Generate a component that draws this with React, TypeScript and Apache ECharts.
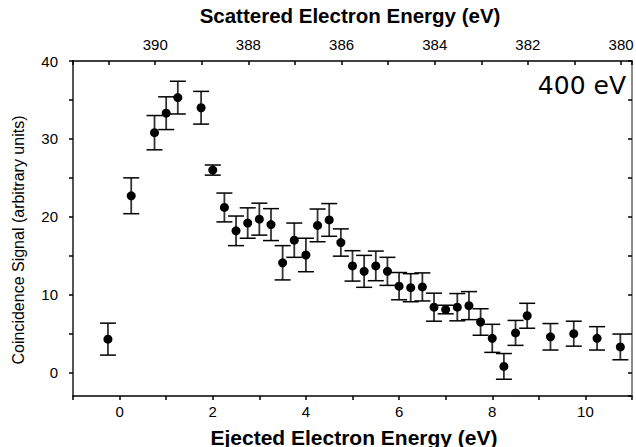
import React, { useEffect, useRef } from "react";
import * as echarts from "echarts";

// Ejected electron energy (eV)
const ejected = [-0.25, 0.25, 0.75, 1.0, 1.25, 1.75, 2.0, 2.25, 2.5, 2.75, 3.0, 3.25, 3.5, 3.75, 4.0, 4.25, 4.5, 4.75, 5.0, 5.25, 5.5, 5.75, 6.0, 6.25, 6.5, 6.75, 7.0, 7.25, 7.5, 7.75, 8.0, 8.25, 8.5, 8.75, 9.25, 9.75, 10.25, 10.75];
// Coincidence signal (arbitrary units)
const signal = [4.3, 22.7, 30.8, 33.3, 35.3, 34.0, 26.0, 21.2, 18.2, 19.2, 19.7, 19.0, 14.1, 17.0, 15.1, 18.9, 19.6, 16.7, 13.7, 13.0, 13.7, 13.0, 11.1, 10.9, 11.0, 8.4, 8.1, 8.4, 8.6, 6.5, 4.4, 0.8, 5.1, 7.3, 4.6, 5.0, 4.4, 3.3];
// Error bar half-heights
const errors = [2.05, 2.3, 2.2, 2.1, 2.1, 2.1, 0.65, 1.85, 1.9, 1.95, 2.05, 2.05, 2.2, 2.2, 2.15, 2.1, 2.1, 1.75, 1.95, 2.05, 1.9, 1.8, 1.75, 1.8, 1.8, 1.8, 0.55, 1.75, 1.8, 1.7, 1.8, 1.65, 1.6, 1.6, 1.7, 1.6, 1.5, 1.65];

// Axis ranges
const xRange = [-1, 11];
const scatteredOffset = 390.765; // scattered = offset - ejected
const yRange = [-3, 40];

const FONT = "Liberation Sans, Arial, sans-serif";

export default function App() {
  const ref = useRef<HTMLDivElement>(null);

  useEffect(() => {
    if (!ref.current) return;
    const chart = echarts.init(ref.current, null, { renderer: "svg" });

    const points = ejected.map((x, i) => [x, signal[i]]);
    const bars = ejected.map((x, i) => [x, signal[i], errors[i]]);

    const evenLabel = (v: number) => {
      const r = Math.round(v);
      if (Math.abs(v - r) > 1e-6) return "";
      return r % 2 === 0 ? String(r) : "";
    };
    const tenLabel = (v: number) => {
      const r = Math.round(v);
      if (Math.abs(v - r) > 1e-6) return "";
      return r % 10 === 0 ? String(r) : "";
    };

    const grid = { left: 73, right: 4, top: 61, bottom: 51, containLabel: false, outerBoundsMode: "none" };
    const labelFont = { color: "#000", fontFamily: FONT, fontSize: 15 };

    chart.setOption({
      animation: false,
      backgroundColor: "#ffffff",
      grid,
      xAxis: [
        {
          type: "value",
          position: "bottom",
          min: xRange[0],
          max: xRange[1],
          interval: 1,
          splitLine: { show: false },
          axisLine: { onZero: false, lineStyle: { color: "#000", width: 1.5 } },
          axisTick: { show: true, inside: false, length: 4, lineStyle: { color: "#000", width: 1.5 } },
          axisLabel: { formatter: evenLabel, ...labelFont, margin: 8 },
        },
        {
          type: "value",
          position: "top",
          inverse: true,
          min: scatteredOffset - xRange[1],
          max: scatteredOffset - xRange[0],
          minInterval: 1,
          maxInterval: 1,
          splitLine: { show: false },
          axisLine: { onZero: false, lineStyle: { color: "#000", width: 1.5 } },
          axisTick: { show: true, inside: true, length: 4, lineStyle: { color: "#000", width: 1.5 } },
          axisLabel: { formatter: evenLabel, ...labelFont, margin: 9 },
        },
      ],
      yAxis: [
        {
          type: "value",
          position: "left",
          min: yRange[0],
          max: yRange[1],
          minInterval: 5,
          maxInterval: 5,
          splitLine: { show: false },
          axisLine: { onZero: false, lineStyle: { color: "#555", width: 2 } },
          axisTick: { show: true, inside: false, length: 4, lineStyle: { color: "#000", width: 1.5 } },
          axisLabel: { formatter: tenLabel, ...labelFont, margin: 15, showMinLabel: false },
        },
        {
          type: "value",
          position: "right",
          min: yRange[0],
          max: yRange[1],
          minInterval: 5,
          maxInterval: 5,
          splitLine: { show: false },
          axisLine: { onZero: false, lineStyle: { color: "#666", width: 1.5 } },
          axisTick: { show: true, inside: true, length: 4, lineStyle: { color: "#000", width: 1.5 } },
          axisLabel: { show: false },
        },
      ],
      series: [
        {
          type: "custom",
          xAxisIndex: 0,
          yAxisIndex: 0,
          data: bars,
          encode: { x: 0, y: 1 },
          silent: true,
          renderItem: (params: any, api: any) => {
            const x = api.value(0);
            const y = api.value(1);
            const e = api.value(2);
            const top = api.coord([x, y + e]);
            const bot = api.coord([x, y - e]);
            const hw = 8;
            const style = { stroke: "#000", lineWidth: 1.5 };
            return {
              type: "group",
              children: [
                { type: "line", shape: { x1: top[0], y1: top[1], x2: bot[0], y2: bot[1] }, style: { stroke: "#333", lineWidth: 1.8 } },
                { type: "line", shape: { x1: top[0] - hw, y1: top[1], x2: top[0] + hw, y2: top[1] }, style },
                { type: "line", shape: { x1: bot[0] - hw, y1: bot[1], x2: bot[0] + hw, y2: bot[1] }, style },
              ],
            };
          },
          z: 2,
        },
        {
          type: "scatter",
          xAxisIndex: 0,
          yAxisIndex: 0,
          data: points,
          symbol: "circle",
          symbolSize: 9,
          itemStyle: { color: "#000", opacity: 1 },
          z: 3,
        },
      ],
      graphic: [
        {
          type: "text",
          x: 350,
          y: 15,
          style: { text: "Scattered Electron Energy (eV)", font: `bold 20.5px ${FONT}`, fill: "#000", align: "center", verticalAlign: "middle" },
        },
        {
          type: "text",
          x: 354,
          y: 437,
          style: { text: "Ejected Electron Energy (eV)", font: `bold 21px ${FONT}`, fill: "#000", align: "center", verticalAlign: "middle" },
        },
        {
          type: "text",
          x: 18,
          y: 240,
          rotation: Math.PI / 2,
          style: { text: "Coincidence Signal (arbitrary units)", font: `16px ${FONT}`, fill: "#000", align: "center", verticalAlign: "middle" },
        },
        {
          type: "text",
          x: 626,
          y: 85,
          style: { text: "400 eV", font: `25px DejaVu Sans, ${FONT}`, fill: "#000", align: "right", verticalAlign: "middle" },
        },
      ],
    });

    return () => chart.dispose();
  }, []);

  return (
    <div
      ref={ref}
      style={{ position: "absolute", left: 0, top: 0, width: 636, height: 447 }}
    />
  );
}
